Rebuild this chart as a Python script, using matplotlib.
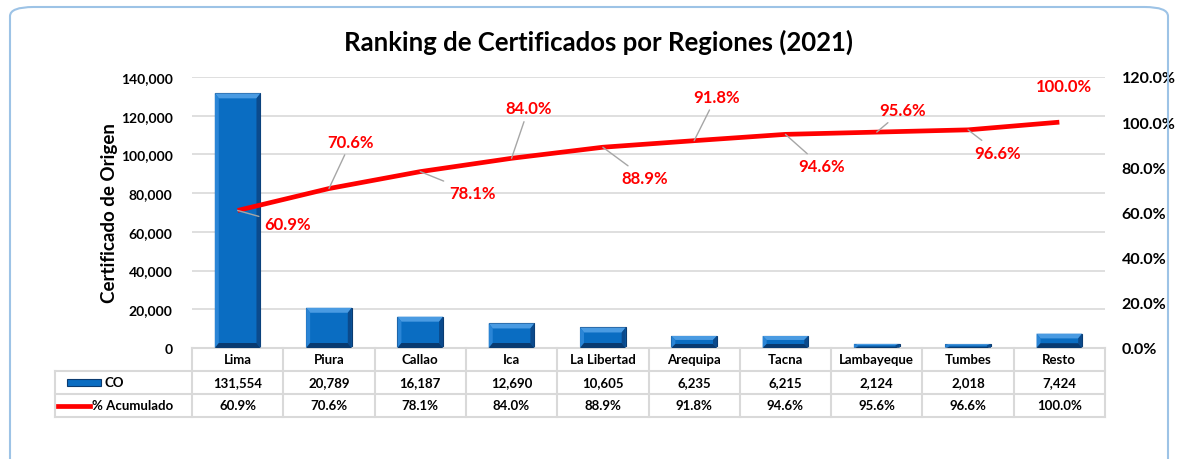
import numpy as np
import matplotlib
matplotlib.use("Agg")
import matplotlib.pyplot as plt
from matplotlib.patches import Polygon, FancyBboxPatch, Rectangle
from matplotlib.lines import Line2D
import matplotlib.transforms as mtransforms

plt.rcParams['font.family'] = ['Lato', 'DejaVu Sans']

# ---- data ----
regiones = ["Lima", "Piura", "Callao", "Ica", "La Libertad", "Arequipa",
            "Tacna", "Lambayeque", "Tumbes", "Resto"]
co = [131554, 20789, 16187, 12690, 10605, 6235, 6215, 2124, 2018, 7424]
acumulado = [60.9, 70.6, 78.1, 84.0, 88.9, 91.8, 94.6, 95.6, 96.6, 100.0]
left_ticks = [0, 20000, 40000, 60000, 80000, 100000, 120000, 140000]
right_ticks = [0.0, 20.0, 40.0, 60.0, 80.0, 100.0, 120.0]

# label offsets in pixels (dx, dy)
label_offsets = [(50, -14), (22, 47), (52, -21), (17, 50), (42, -31),
                 (22, 44), (36, -32), (26, 22), (30, -23), (5, 36)]

W, H = 1178, 460
fig = plt.figure(figsize=(W / 100, H / 100), dpi=100)
fig.patch.set_facecolor("white")

# outer rounded border
border = FancyBboxPatch((10 / W, -0.2), (1168 - 10) / W, (452 / H) + 0.2,
                        boxstyle="round,pad=0,rounding_size=0.02",
                        transform=fig.transFigure, fill=False,
                        edgecolor="#9DC3E6", linewidth=1.5)
fig.patches.append(border)

ax_l, ax_r, ax_t, ax_b = 192, 1105, 78, 349
ax = fig.add_axes([ax_l / W, 1 - ax_b / H, (ax_r - ax_l) / W, (ax_b - ax_t) / H])
n = len(regiones)
x = np.arange(n)
ax.set_xlim(-0.5, n - 0.5)
ax.set_ylim(0, 140000)
ax.set_yticks(left_ticks)
ax.set_yticklabels([f"{v:,}" for v in left_ticks], fontsize=10, fontweight="bold")
ax.tick_params(axis="y", length=0, pad=14)
ax.set_xticks([])
for s in ax.spines.values():
    s.set_visible(False)
ax.grid(axis="y", color="#D9D9D9", linewidth=1.2)
ax.set_axisbelow(True)
ax.set_ylabel("Certificado de Origen", fontsize=13.5, fontweight="bold", labelpad=2)

# bars with bevel
bw = 0.5
main_c, top_c, left_c, right_c, bot_c = "#0A6DC2", "#4A9BE2", "#2A85D6", "#0B4A8C", "#083A70"
ax.bar(x, co, width=bw, color=main_c, edgecolor="#0B3B70", linewidth=0.8, zorder=2)
px_x = 1.0 / ((ax_r - ax_l) / n)
px_y = 140000 / (ax_b - ax_t)
for xi, h in zip(x, co):
    x0, x1 = xi - bw / 2, xi + bw / 2
    dx = 4 * px_x
    dy = min(5 * px_y, h / 3)
    polys = [
        ([(x0, h), (x1, h), (x1 - dx, h - dy), (x0 + dx, h - dy)], top_c),
        ([(x0, 0), (x0, h), (x0 + dx, h - dy), (x0 + dx, dy)], left_c),
        ([(x1, 0), (x1, h), (x1 - dx, h - dy), (x1 - dx, dy)], right_c),
        ([(x0, 0), (x1, 0), (x1 - dx, dy), (x0 + dx, dy)], bot_c),
    ]
    for pts, c in polys:
        ax.add_patch(Polygon(pts, closed=True, facecolor=c, edgecolor="none", zorder=3))

# secondary axis
ax2 = ax.twinx()
ax2.set_ylim(0, 120)
ax2.set_yticks(right_ticks)
ax2.set_yticklabels([f"{v:.1f}%" for v in right_ticks], fontsize=11.5, fontweight="bold")
ax2.tick_params(axis="y", length=0, pad=12)
for s in ax2.spines.values():
    s.set_visible(False)
ax2.plot(x, acumulado, color="#FF0000", linewidth=3.4, zorder=5, solid_capstyle="butt")
for xi, v, (odx, ody) in zip(x, acumulado, label_offsets):
    ap = None if xi == n - 1 else dict(arrowstyle="-", color="#A6A6A6", lw=1,
                                        shrinkA=2, shrinkB=0)
    ax2.annotate(f"{v:.1f}%", xy=(xi, v), xytext=(odx, ody),
                 textcoords="offset pixels", ha="center", va="center",
                 color="#FF0000", fontsize=12, fontweight="bold",
                 arrowprops=ap, zorder=6)

# title
fig.text(598 / W, 1 - 42 / H, "Ranking de Certificados por Regiones (2021)",
         ha="center", va="center", fontsize=18.5, fontweight="bold", color="#000000")

# ---- data table ----
trans = mtransforms.blended_transform_factory(ax.transData, ax.transAxes)
axh = ax_b - ax_t
row_h = 23 / axh
rows_y = [0, -row_h, -2 * row_h, -3 * row_h]
gcol = "#D9D9D9"
lab_left = -0.5 - (ax_l - 55) * px_x

def hline(x0, x1, y):
    ax.add_line(Line2D([x0, x1], [y, y], transform=trans, color=gcol, lw=1.5, clip_on=False))

def vline(xv, y0, y1):
    ax.add_line(Line2D([xv, xv], [y0, y1], transform=trans, color=gcol, lw=1.5, clip_on=False))

hline(-0.5, n - 0.5, rows_y[0])
for y in rows_y[1:]:
    hline(lab_left, n - 0.5, y)
for i in range(n + 1):
    vline(-0.5 + i, rows_y[0], rows_y[3])
vline(lab_left, rows_y[1], rows_y[3])

fs_t = 9.5
for xi, name, c, a in zip(x, regiones, co, acumulado):
    ax.text(xi, (rows_y[0] + rows_y[1]) / 2, name, transform=trans, ha="center",
            va="center", fontsize=fs_t, fontweight="bold")
    ax.text(xi, (rows_y[1] + rows_y[2]) / 2, f"{c:,}", transform=trans, ha="center",
            va="center", fontsize=fs_t, fontweight="bold")
    ax.text(xi, (rows_y[2] + rows_y[3]) / 2, f"{a:.1f}%", transform=trans, ha="center",
            va="center", fontsize=fs_t, fontweight="bold")

# legend keys in row labels
ym1 = (rows_y[1] + rows_y[2]) / 2
ym2 = (rows_y[2] + rows_y[3]) / 2
kx0 = -0.5 - (ax_l - 67) * px_x
kx1 = -0.5 - (ax_l - 101) * px_x
ax.add_patch(Rectangle((kx0, ym1 - 3.5 / axh), kx1 - kx0, 7 / axh, transform=trans,
                       facecolor=main_c, edgecolor="#0B3B70", lw=0.8, clip_on=False))
ax.text(-0.5 - (ax_l - 105) * px_x, ym1, "CO", transform=trans, ha="left", va="center",
        fontsize=fs_t, fontweight="bold")
ax.add_line(Line2D([-0.5 - (ax_l - 58) * px_x, -0.5 - (ax_l - 90) * px_x], [ym2, ym2],
                   transform=trans, color="#FF0000", lw=3.4, clip_on=False))
ax.text(-0.5 - (ax_l - 92) * px_x, ym2, "% Acumulado", transform=trans, ha="left",
        va="center", fontsize=fs_t, fontweight="bold")

fig.savefig("out.png", dpi=100, facecolor="white")
